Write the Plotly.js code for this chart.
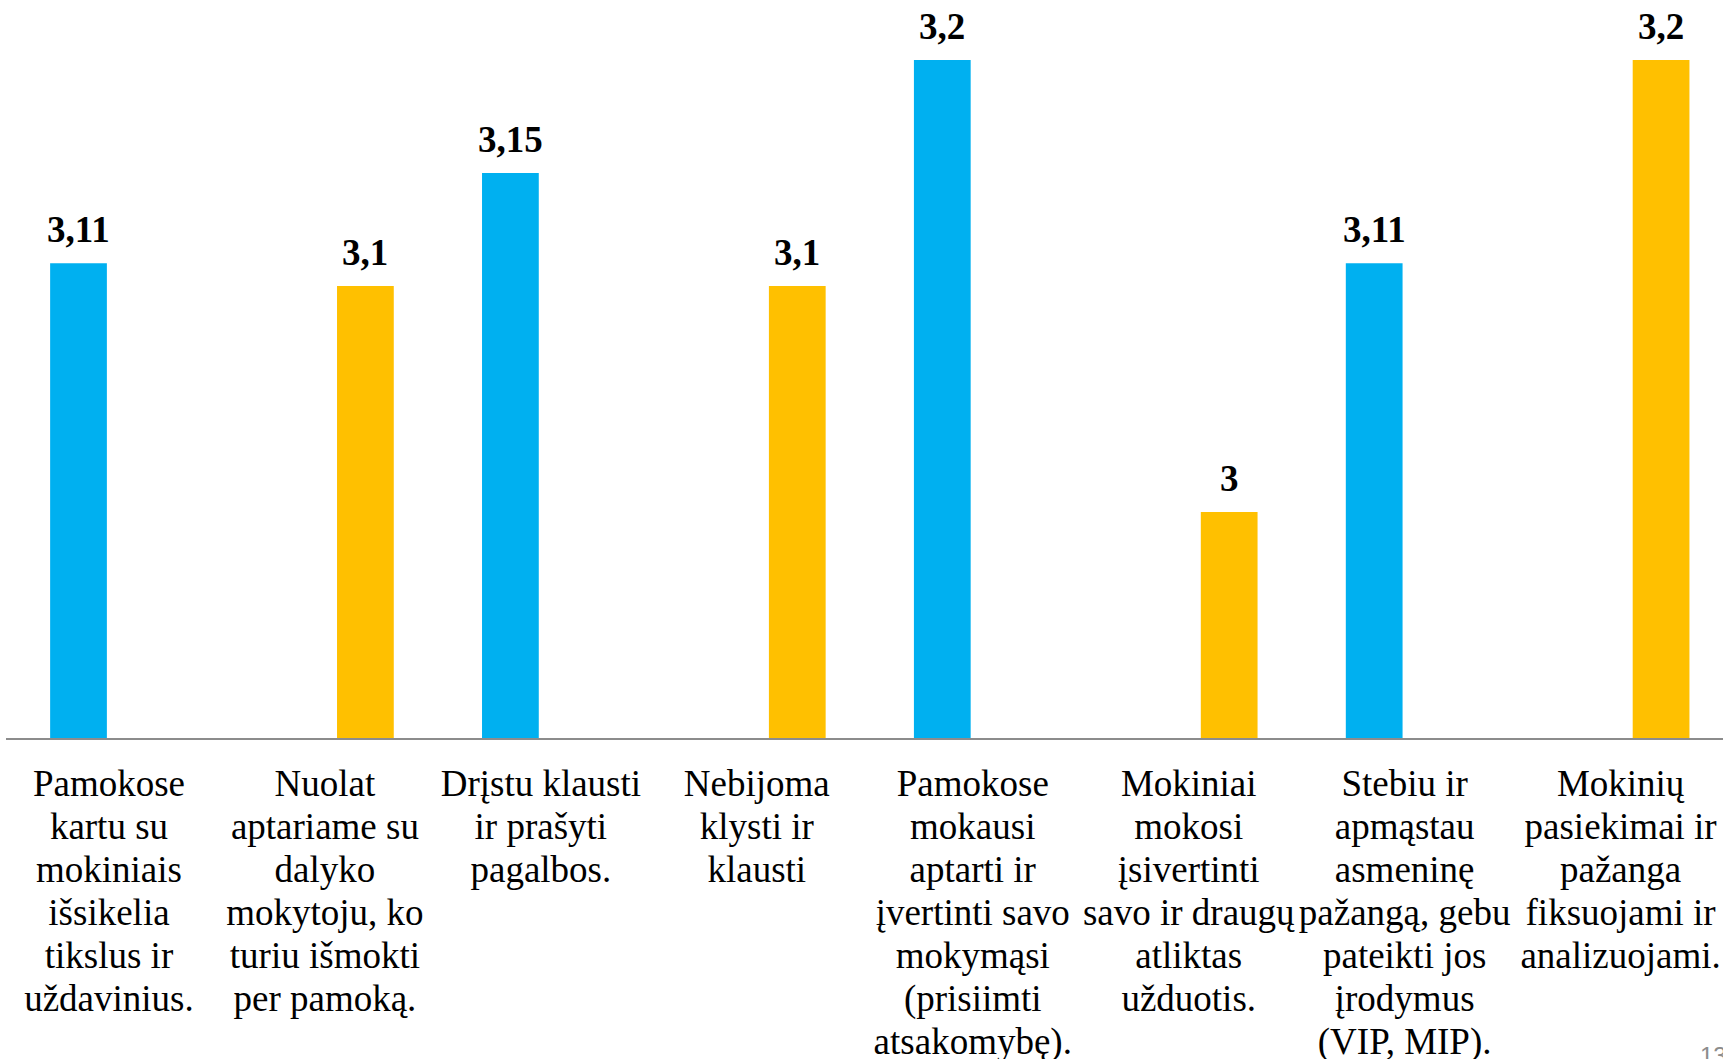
<!DOCTYPE html>
<html>
<head>
<meta charset="utf-8">
<script src="https://cdn.plot.ly/plotly-3.0.1.min.js"></script>
<style>
  html, body { margin: 0; padding: 0; background: #fff; }
  #chart { width: 1723px; height: 1059px; }
</style>
</head>
<body>
<div id="chart"></div>
<script>
var categories = [
  'Pamokose<br>kartu su<br>mokiniais<br>išsikelia<br>tikslus ir<br>uždavinius.',
  'Nuolat<br>aptariame su<br>dalyko<br>mokytoju, ko<br>turiu išmokti<br>per pamoką.',
  'Drįstu klausti<br>ir prašyti<br>pagalbos.',
  'Nebijoma<br>klysti ir<br>klausti',
  'Pamokose<br>mokausi<br>aptarti ir<br>įvertinti savo<br>mokymąsi<br>(prisiimti<br>atsakomybę).',
  'Mokiniai<br>mokosi<br>įsivertinti<br>savo ir draugų<br>atliktas<br>užduotis.',
  'Stebiu ir<br>apmąstau<br>asmeninę<br>pažangą, gebu<br>pateikti jos<br>įrodymus<br>(VIP, MIP).',
  'Mokinių<br>pasiekimai ir<br>pažanga<br>fiksuojami ir<br>analizuojami.'
];
var blueValues = [3.11, null, 3.15, null, 3.2, null, 3.11, null];
var yellowValues = [null, 3.1, null, 3.1, null, 3.0, null, 3.2];

function label(v) { return String(v).replace('.', ','); }

// value labels above bars (bold, comma decimal)
var annotations = [];
function addLabels(vals, shift) {
  vals.forEach(function (v, i) {
    if (v === null) return;
    annotations.push({
      x: categories[i], y: v, xref: 'x', yref: 'y',
      text: '<b>' + label(v) + '</b>', showarrow: false,
      xshift: shift, yshift: 11, yanchor: 'bottom',
      font: {family: 'Liberation Serif', size: 37, color: '#000'}
    });
  });
}
addLabels(blueValues, -35.5);
addLabels(yellowValues, 35.5);

// slide page number, cut off in the corner
annotations.push({
  x: 0.9854, y: -0.409, xref: 'paper', yref: 'paper',
  xanchor: 'left', yanchor: 'top', text: '13', showarrow: false,
  font: {family: 'Liberation Sans', size: 24, color: '#8c8c8c'}
});

var trace1 = {
  x: categories, y: blueValues, type: 'bar', name: 'A',
  marker: {color: '#00B0F0'}, hoverinfo: 'y'
};
var trace2 = {
  x: categories, y: yellowValues, type: 'bar', name: 'B',
  marker: {color: '#FFC000'}, hoverinfo: 'y'
};

var layout = {
  width: 1723, height: 1059,
  margin: {l: 5.5, r: 0, t: 0, b: 321},
  paper_bgcolor: '#fff', plot_bgcolor: '#fff',
  showlegend: false,
  barmode: 'group', bargap: 0.343, bargroupgap: 0.2,
  xaxis: {
    type: 'category', range: [-0.5, 7.451],
    showline: true, linecolor: '#8c8c8c', linewidth: 2,
    showgrid: false, zeroline: false, ticks: '',
    tickangle: 0, ticklabelstandoff: 12, ticklabelshift: -5,
    tickfont: {family: 'Liberation Serif', size: 37, color: '#000'}
  },
  yaxis: {
    range: [2.9, 3.2265], showgrid: false, zeroline: false,
    showline: false, showticklabels: false, ticks: ''
  },
  annotations: annotations
};

Plotly.newPlot('chart', [trace1, trace2], layout, {displayModeBar: false, staticPlot: true})
  .then(function () {
    // tighter line spacing in the category labels, like the slide (~1.16em)
    document.querySelectorAll('.xtick text tspan.line').forEach(function (t) {
      var dy = parseFloat(t.getAttribute('dy')) || 0;
      t.setAttribute('dy', (dy / 1.3 * 1.16) + 'em');
    });
  });
</script>
</body>
</html>
